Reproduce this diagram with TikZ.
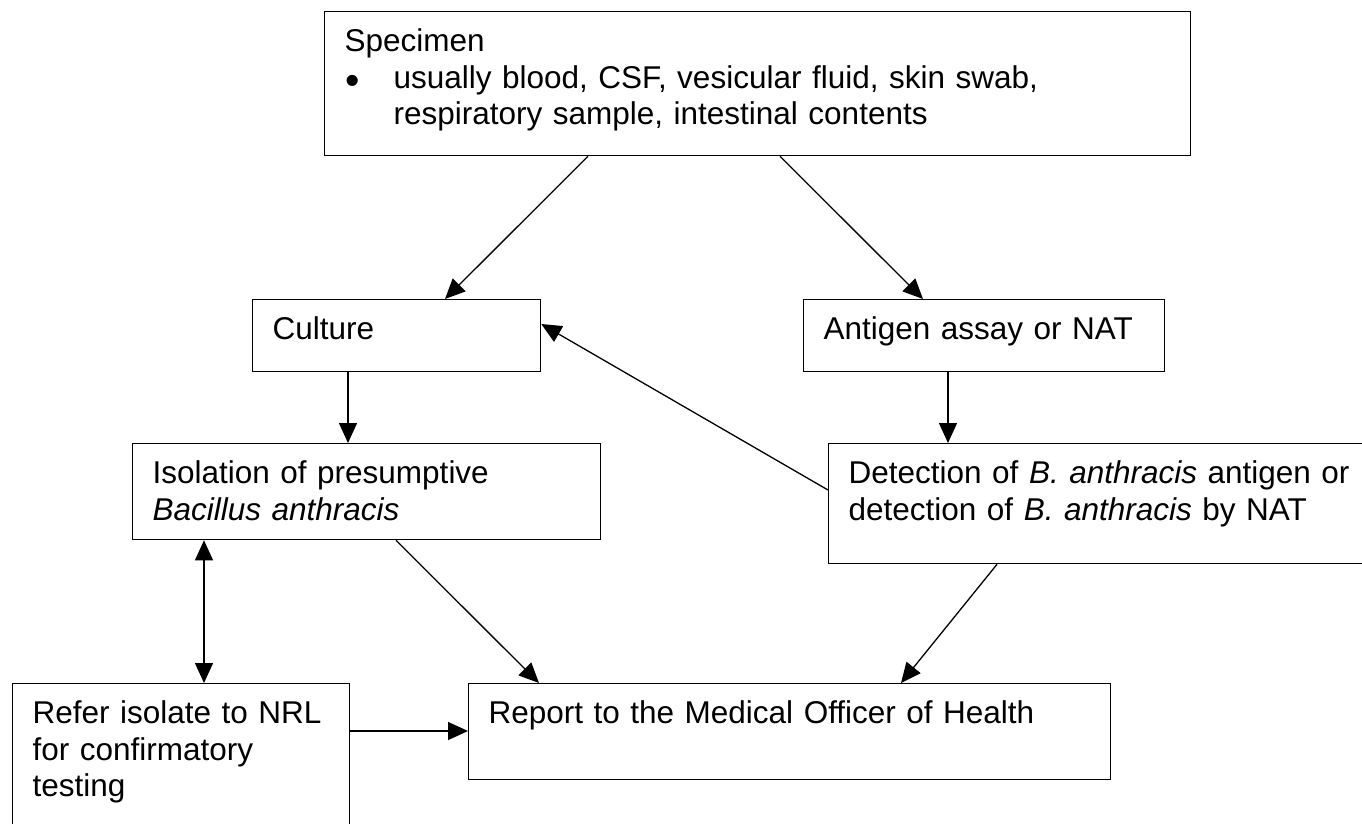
\documentclass[tikz,border=0pt]{standalone}
\usepackage{fontspec}
\setmainfont{Liberation Sans}
\usetikzlibrary{arrows.meta,calc}

\begin{document}
\begin{tikzpicture}[x=1pt,y=-1pt,
  flowbox/.style={draw,line width=1.3pt,anchor=north west,align=left,
    inner xsep=20pt,inner ysep=0pt,text height=40pt,
    font=\fontsize{31.5}{36.4}\selectfont},
  arr/.style={line width=1.3pt,-{Triangle[length=20pt,width=18pt]}},
  twoarr/.style={line width=1.3pt,{Triangle[length=20pt,width=18pt]}-{Triangle[length=20pt,width=18pt]}}]

\useasboundingbox (0,0) rectangle (1362,823);

% Boxes
\node[flowbox,text width=826pt,text depth=104pt] (spec) at (324,11)
  {Specimen\\
   \makebox[49pt][l]{\hspace{1pt}\raisebox{-6pt}{\scalebox{1.3}{\textbullet}}}\parbox[t]{760pt}{usually blood, CSF, vesicular fluid, skin swab,\\
   respiratory sample, intestinal contents}};
\node[flowbox,text width=248pt,text depth=32pt] (culture) at (252,299) {Culture};
\node[flowbox,text width=321pt,text depth=32pt] (antigen) at (803,299) {Antigen assay or NAT};
\node[flowbox,text width=428pt,text depth=56pt] (isolation) at (132,443)
  {Isolation of presumptive\\ \textit{Bacillus anthracis}};
\node[flowbox,text width=520pt,text depth=80pt] (detection) at (828,443)
  {Detection of \textit{B. anthracis} antigen or\\
   detection of \textit{B. anthracis} by NAT};
\node[flowbox,text width=297pt,text depth=127pt] (refer) at (12,683)
  {Refer isolate to NRL\\ for confirmatory\\ testing};
\node[flowbox,text width=602pt,text depth=56pt] (report) at (468,683)
  {Report to the Medical Officer of Health};

% Arrows
\draw[arr] ([xshift=264pt]spec.south west) -- ([xshift=193pt]culture.north west);
\draw[arr] ([xshift=456pt]spec.south west) -- ([xshift=120pt]antigen.north west);
\draw[arr] ([xshift=96pt]culture.south west) -- ([xshift=216pt]isolation.north west);
\draw[arr] ([xshift=145pt]antigen.south west) -- ([xshift=120pt]detection.north west);
\draw[arr] ([yshift=-47pt]detection.north west) -- ([yshift=-25pt]culture.north east);
\draw[twoarr] ([xshift=72pt]isolation.south west) -- ([xshift=192pt]refer.north west);
\draw[arr] ([xshift=264pt]isolation.south west) -- ([xshift=71pt]report.north west);
\draw[arr] ([xshift=169pt]detection.south west) -- ([xshift=433pt]report.north west);
\draw[arr] ([yshift=-48pt]refer.north east) -- ([yshift=-48pt]report.north west);

\end{tikzpicture}
\end{document}
